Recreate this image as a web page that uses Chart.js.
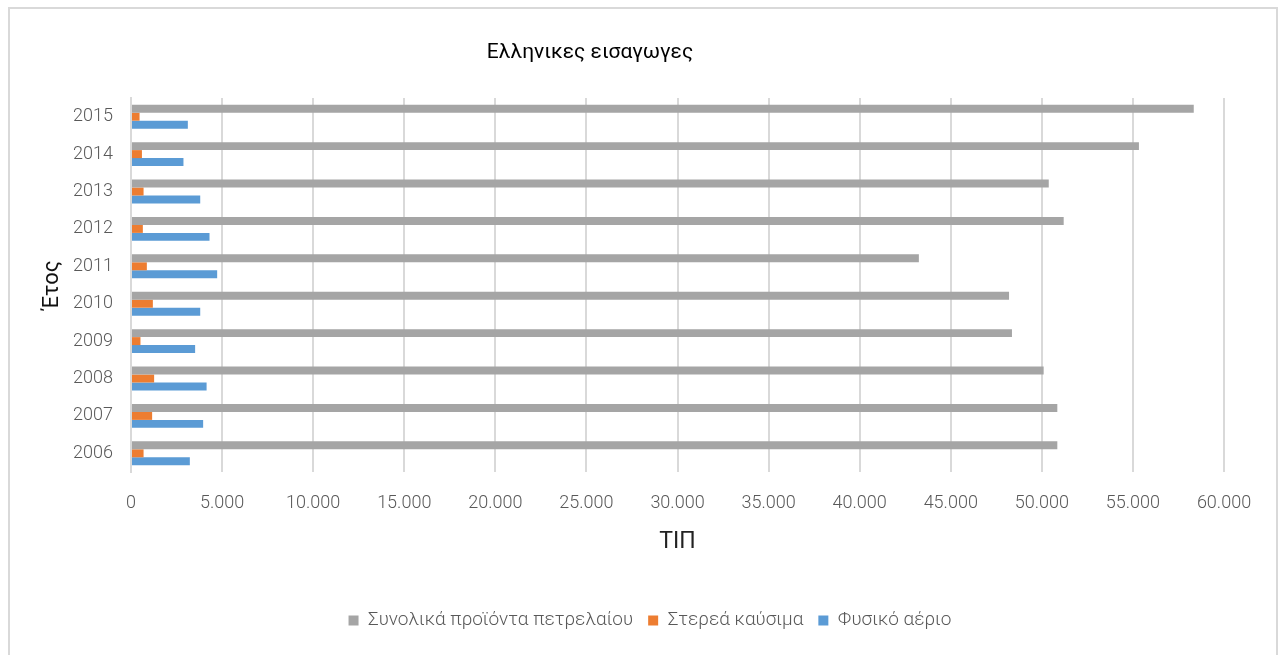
<!DOCTYPE html>
<html>
<head>
<meta charset="utf-8">
<script src="https://cdn.jsdelivr.net/npm/chart.js@4.4.1/dist/chart.umd.min.js"></script>
<style>
  html, body { margin: 0; padding: 0; background: #fff; }
  #wrap { position: relative; width: 1283px; height: 655px; overflow: hidden; }
  #frame { position: absolute; left: 8px; top: 7px; width: 1266px; height: 700px;
           border: 2px solid #d9d9d9; pointer-events: none; }
</style>
</head>
<body>
<div id="wrap">
  <canvas id="barChart" width="1283" height="655"></canvas>
  <div id="frame"></div>
</div>
<script>
// top to bottom, as in the picture
const years = ['2015','2014','2013','2012','2011','2010','2009','2008','2007','2006'];
const petroleum = [58340, 55330, 50380, 51200, 43250, 48200, 48360, 50100, 50850, 50850];
const solidFuels = [470, 600, 690, 650, 870, 1200, 520, 1270, 1160, 690];
const naturalGas = [3120, 2880, 3800, 4310, 4730, 3800, 3520, 4150, 3960, 3230];

const seriesNames = ['Συνολικά προϊόντα πετρελαίου', 'Στερεά καύσιμα', 'Φυσικό αέριο'];
const chartTitle = 'Ελληνικες εισαγωγες';
const xTitle = 'ΤΙΠ';
const yTitle = 'Έτος';

const FONT = 'Roboto, "Open Sans", "Noto Sans", sans-serif';

// title sits left of centre in the original, so draw it ourselves
const titlePlugin = {
  id: 'titlePlugin',
  afterDraw(chart) {
    const c = chart.ctx;
    c.save();
    c.font = '21px ' + FONT;
    c.fillStyle = '#000';
    c.textAlign = 'center';
    c.textBaseline = 'middle';
    c.fillText(chartTitle, 590, 53);
    c.restore();
  }
};

// legend is a bit right of the plot centre in the original
const legendShift = {
  id: 'legendShift',
  afterLayout(chart) {
    if (chart.legend) {
      chart.legend.left += 23;
      chart.legend.right += 23;
    }
  }
};

const ctx = document.getElementById('barChart').getContext('2d');
const barChart = new Chart(ctx, {
  type: 'bar',
  data: {
    labels: years,
    datasets: [
      { label: seriesNames[0], data: petroleum, backgroundColor: '#a5a5a5' },
      { label: seriesNames[1], data: solidFuels, backgroundColor: '#ed7d31' },
      { label: seriesNames[2], data: naturalGas, backgroundColor: '#5b9bd5' }
    ]
  },
  options: {
    indexAxis: 'y',
    responsive: false,
    animation: false,
    categoryPercentage: 0.64,
    barPercentage: 1.0,
    layout: { padding: { left: 30, right: 59, top: 98, bottom: 15 } },
    plugins: {
      tooltip: { enabled: false },
      title: { display: false },
      legend: {
        position: 'bottom',
        labels: {
          boxWidth: 10, boxHeight: 10, padding: 15,
          color: '#595959',
          font: { family: FONT, size: 19, weight: '300' }
        }
      }
    },
    scales: {
      x: {
        min: 0, max: 60000,
        afterFit(scale) { scale.height = 124; },
        ticks: {
          stepSize: 5000, padding: 21, color: '#595959',
          font: { family: FONT, size: 18, weight: '300' },
          callback: (v) => String(v).replace(/\B(?=(\d{3})+(?!\d))/g, '.')
        },
        grid: { color: '#d9d9d9', lineWidth: 2, drawTicks: false },
        border: { display: false },
        title: {
          display: true, text: xTitle, color: '#222',
          font: { family: FONT, size: 23, weight: '400' },
          padding: { top: 0, bottom: 40 }
        }
      },
      y: {
        afterFit(scale) { scale.width = 101; },
        ticks: {
          padding: 18, color: '#595959',
          font: { family: FONT, size: 18, weight: '300' }
        },
        grid: { display: false, drawTicks: false },
        border: { display: true, color: '#d9d9d9', width: 2 },
        title: {
          display: true, text: yTitle, color: '#111',
          font: { family: FONT, size: 22, weight: '400' },
          padding: { top: 9, bottom: 0 }
        }
      }
    }
  },
  plugins: [titlePlugin, legendShift]
});
</script>
</body>
</html>
